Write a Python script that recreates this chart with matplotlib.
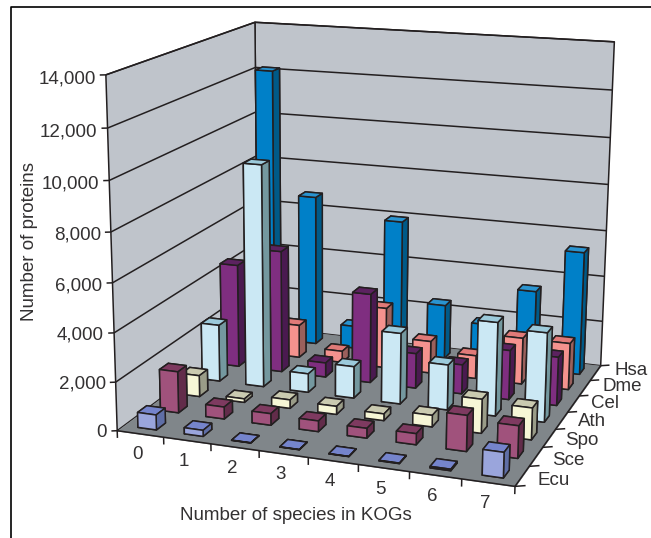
import numpy as np
import matplotlib
matplotlib.use("Agg")
import matplotlib.pyplot as plt
from matplotlib.lines import Line2D
from mpl_toolkits.mplot3d import proj3d
from mpl_toolkits.mplot3d.art3d import Poly3DCollection, Line3DCollection

plt.rcParams['font.family'] = ['Liberation Sans', 'DejaVu Sans']

categories = ['0', '1', '2', '3', '4', '5', '6', '7']
series_names = ['Ecu', 'Sce', 'Spo', 'Ath', 'Cel', 'Dme', 'Hsa']
value_ticks = [0, 2000, 4000, 6000, 8000, 10000, 12000, 14000]
value_labels = ['0', '2,000', '4,000', '6,000', '8,000', '10,000', '12,000', '14,000']

ecu = [620, 250, 10, 10, 10, 20, 60, 1000]
sce = [1730, 500, 480, 440, 400, 450, 1450, 1300]
spo = [900, 150, 360, 340, 280, 480, 1400, 1300]
ath = [2450, 9450, 800, 1350, 3000, 1900, 3900, 3700]
cel = [4500, 5300, 620, 3850, 1500, 1250, 2100, 2050]
dme = [2000, 1450, 500, 2650, 1400, 1000, 2000, 2000]
hsa = [12150, 6700, 1000, 5950, 2400, 1750, 3450, 5350]
all_values = [ecu, sce, spo, ath, cel, dme, hsa]

# front, top, side colours per series
front = ['#9aa5dc', '#a0527c', '#f6f6d6', '#cbe8f4', '#7f2e80', '#f4928e', '#0080c8']
top = ['#7584cc', '#7e3a60', '#cacab0', '#9ccadb', '#5c2260', '#e07a78', '#2a94d0']
side = ['#5f6ea6', '#622c4a', '#9a9c88', '#74989f', '#4a1a50', '#9a605c', '#005a88']

ZMAX = value_ticks[-1]
NX, NY = len(categories), len(series_names)

# Camera calibration: world corners of the chart box and where they appear
world = np.array([(0, 0, 0), (NX, 0, 0), (NX, NY, 0), (0, NY, 0),
                  (0, 0, ZMAX), (0, NY, ZMAX), (NX, NY, ZMAX)], float)
image = np.array([(118, 430), (515, 487), (601, 365), (257, 327),
                  (105, 75), (256, 22), (614, 42)], float)


def camera(world, image):
    w = world / np.array([NX, NY, ZMAX])
    rows = []
    for (X, Y, Z), (u, v) in zip(w, image):
        rows.append([X, Y, Z, 1, 0, 0, 0, 0, -u*X, -u*Y, -u*Z, -u])
        rows.append([0, 0, 0, 0, X, Y, Z, 1, -v*X, -v*Y, -v*Z, -v])
    p = np.linalg.svd(np.array(rows))[2][-1].reshape(3, 4)
    p = p @ np.diag([1/NX, 1/NY, 1/ZMAX, 1])
    if p[2, 3] < 0:
        p = -p
    return np.array([p[0], p[1], [0, 0, 0, -1.0], p[2]])


M = camera(world, image)

fig = plt.figure(figsize=(6.51, 5.38), dpi=100)
ax = fig.add_axes([0, 0, 1, 1], projection='3d', computed_zorder=False)
ax.get_proj = lambda: M
ax.apply_aspect = lambda position=None: None
ax.set_axis_off()

EDGE = '#231f20'
wall = '#bfc4cb'
floor_c = '#80868a'

walls = [
    [(0, 0, 0), (0, NY, 0), (0, NY, ZMAX), (0, 0, ZMAX)],
    [(0, NY, 0), (NX, NY, 0), (NX, NY, ZMAX), (0, NY, ZMAX)],
]
ax.add_collection3d(Poly3DCollection(walls, facecolors=wall, edgecolors=EDGE, linewidths=1.1, zorder=1))
ax.add_collection3d(Poly3DCollection([[(0, 0, 0), (NX, 0, 0), (NX, NY, 0), (0, NY, 0)]],
                                     facecolors=floor_c, edgecolors=floor_c, linewidths=0.5, zorder=2))


def lines(segments, z):
    ax.add_collection3d(Line3DCollection(segments, colors=EDGE, linewidths=1.1, zorder=z))


grid = []
for v in value_ticks[1:]:
    grid += [[(0, 0, v), (0, NY, v)], [(0, NY, v), (NX, NY, v)], [(0, 0, v), (-0.1, -0.05, v)]]
lines(grid, 1.5)

axes_lines = [[(0, 0, 0), (NX, 0, 0)], [(NX, 0, 0), (NX, NY, 0)], [(0, 0, 0), (-0.1, -0.05, 0)]]
axes_lines += [[(i, 0, 0), (i, 0, -300)] for i in range(NX + 1)]
axes_lines += [[(NX, j, 0), (NX + 0.17, j + 0.1, 0)] for j in range(NY + 1)]
lines(axes_lines, 3)

BW = 0.4
for j in reversed(range(NY)):
    for i in range(NX):
        v = all_values[j][i]
        faces = [top[j], top[j], front[j], front[j], side[j], side[j]]
        ax.bar3d(i + 0.5 - BW/2, j + 0.5 - BW/2, 0, BW, BW, v, color=faces, shade=False,
                 edgecolor=EDGE, linewidth=1.1, zorder=10 + (NY - j)*100 + i)


def label(x, y, z, s, dx, dy, **kw):
    px, py, _ = proj3d.proj_transform(x, y, z, M)
    ax.annotate(s, (px, py), xytext=(dx, -dy), textcoords='offset pixels',
                fontsize=13.5, color='#333132', zorder=5000, **kw)


ax.set_xlim(0, NX)
ax.set_ylim(0, NY)
ax.set_zlim(0, ZMAX)
ax.viewLim.set_points(np.array([[0.0, 538.0], [651.0, 0.0]]))

for v, s in zip(value_ticks, value_labels):
    label(0, 0, v, s, -10, 3 * v / ZMAX + 1.5, ha='right', va='center')
for i, s in enumerate(categories):
    label(i + 0.5, 0, 0, s, -3, 21, ha='center', va='center')
for j, s in enumerate(series_names):
    label(NX, j + 0.5, 0, s, 15 + 0.6 * j, 4.5 - 1.2 * j, ha='left', va='center')

fig.text(296 / 651, 1 - 516 / 538, 'Number of species in KOGs', fontsize=13.5, color='#333132',
         ha='center', va='center')
fig.text(30 / 651, 1 - 241 / 538, 'Number of proteins', fontsize=13.5, color='#333132',
         rotation=90, ha='center', va='center')

fig.add_artist(Line2D([11 / 651, 11 / 651, 1], [0, 1 - 7 / 538, 1 - 7 / 538], color='black', lw=1.2))

fig.savefig('out.png', dpi=100)
